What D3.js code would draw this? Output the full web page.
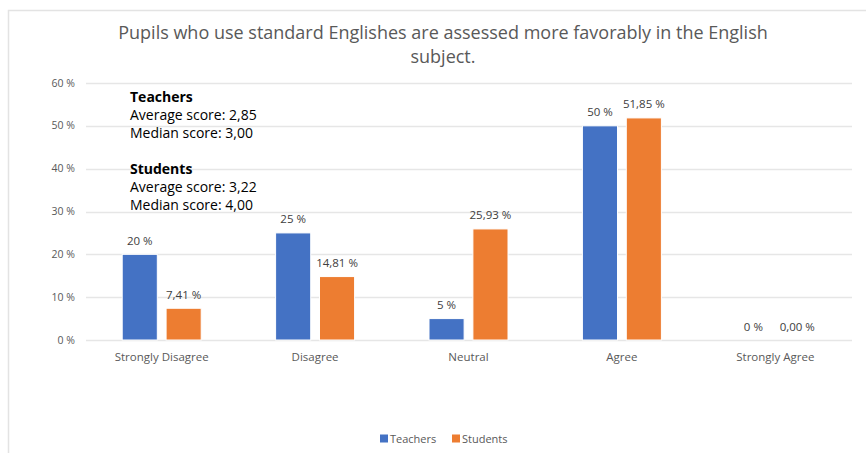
<!DOCTYPE html>
<html><head><meta charset="utf-8">
<script src="https://cdn.jsdelivr.net/npm/d3@7"></script>
<style>body{margin:0;background:#fff}svg{display:block}</style>
</head><body>
<svg id="c" width="866" height="453"></svg>
<script>
const categories = ["Strongly Disagree","Disagree","Neutral","Agree","Strongly Agree"];
const seriesNames = ["Teachers","Students"];
const teachers = [20, 25, 5, 50, 0];
const students = [7.41, 14.81, 25.93, 51.85, 0];
const teacherLabels = ["20 %","25 %","5 %","50 %","0 %"];
const studentLabels = ["7,41 %","14,81 %","25,93 %","51,85 %","0,00 %"];
const yTicks = [0,10,20,30,40,50,60];
const titleLines = ["Pupils who use standard Englishes are assessed more favorably in the English","subject."];
const noteLines = [["Teachers",true],["Average score: 2,85",false],["Median score: 3,00",false],["",false],["Students",true],["Average score: 3,22",false],["Median score: 4,00",false]];
const colors = ["#4472C4","#ED7D31"];

const svg = d3.select("#c");
const font = "'Open Sans', 'Noto Sans', sans-serif";
// outer frame
svg.append("path").attr("d","M8.5,453 V10.5 H866").attr("fill","none").attr("stroke","#e3e3e3").attr("stroke-width",1.5);

const x0 = d3.scaleBand().domain(categories).range([85,852]);
const x1 = d3.scaleBand().domain(seriesNames).range([0,79]).paddingInner(0.2);
const y = d3.scaleLinear().domain([0,60]).range([340,83]);

// grid
svg.append("g").selectAll("line").data(yTicks).join("line")
  .attr("x1",86).attr("x2",852).attr("y1",d=>Math.round(y(d))+0.5).attr("y2",d=>Math.round(y(d))+0.5)
  .attr("stroke","#e6e6e6").attr("stroke-width",1.3);
svg.append("g").selectAll("text").data(yTicks).join("text")
  .attr("x",75).attr("y",d=>y(d)+3.5).attr("text-anchor","end")
  .attr("font-family",font).attr("font-size",10.5).attr("fill","#595959")
  .text(d=>d+" %");

const data = [teachers, students];
const labels = [teacherLabels, studentLabels];
const gx = (i,si)=>x0(categories[i])+(x0.bandwidth()-79)/2+x1(seriesNames[si]);
data.forEach((vals,si)=>{
  const g = svg.append("g");
  g.selectAll("rect").data(vals).join("rect")
    .attr("x",(d,i)=>gx(i,si))
    .attr("width",x1.bandwidth())
    .attr("y",d=>y(d)).attr("height",d=>y(0)-y(d))
    .attr("fill",colors[si]).attr("stroke","#fff").attr("stroke-width",d=>d>0?1:0);
  g.selectAll("text").data(vals).join("text")
    .attr("x",(d,i)=>gx(i,si)+x1.bandwidth()/2)
    .attr("y",d=>y(d)-9.5).attr("text-anchor","middle")
    .attr("font-family",font).attr("font-size",11.5).attr("fill","#404040")
    .text((d,i)=>labels[si][i]);
});

// x labels
svg.append("g").selectAll("text").data(categories).join("text")
  .attr("x",d=>x0(d)+x0.bandwidth()/2).attr("y",361).attr("text-anchor","middle")
  .attr("font-family",font).attr("font-size",11.5).attr("fill","#595959").text(d=>d);

// title
svg.append("g").selectAll("text").data(titleLines).join("text")
  .attr("x",443).attr("y",(d,i)=>39+i*24).attr("text-anchor","middle")
  .attr("font-family",font).attr("font-size",18).attr("fill","#595959").text(d=>d);

// notes
svg.append("g").selectAll("text").data(noteLines).join("text")
  .attr("x",130).attr("y",(d,i)=>102+i*18)
  .attr("font-family",font).attr("font-size",14).attr("font-weight",d=>d[1]?"bold":"normal")
  .attr("fill","#000").text(d=>d[0]);

// legend
const leg = svg.append("g");
const legX = [380,452];
seriesNames.forEach((n,i)=>{
  leg.append("rect").attr("x",legX[i]).attr("y",434.5).attr("width",8).attr("height",8).attr("fill",colors[i]);
  leg.append("text").attr("x",legX[i]+10).attr("y",442.5).attr("font-family",font).attr("font-size",11).attr("fill","#595959").text(n);
});
</script>
</body></html>
